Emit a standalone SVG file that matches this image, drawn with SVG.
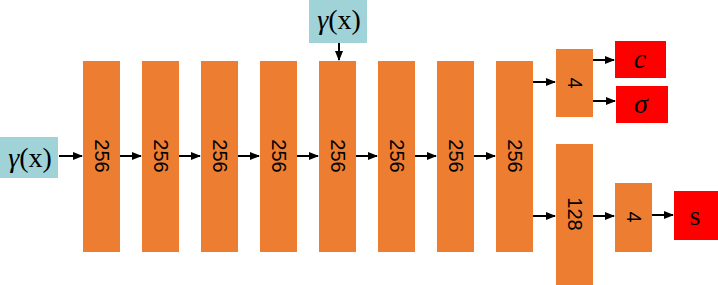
<svg xmlns="http://www.w3.org/2000/svg" width="718" height="285" viewBox="0 0 718 285">
<style>
.bar{fill:#ED7D31}
.in{fill:#A0D3D8}
.out{fill:#FF0000}
.lbl{font-family:"Liberation Sans",Arial,sans-serif;font-size:20px;fill:#000;text-anchor:middle;dominant-baseline:central}
.math{font-family:"Liberation Serif","Times New Roman",serif;font-size:28px;fill:#000;text-anchor:middle}
.conn line{stroke:#000;stroke-width:2;marker-end:url(#ah)}
</style>
<defs>
<marker id="ah" markerWidth="10" markerHeight="8" refX="9" refY="4" orient="auto" markerUnits="userSpaceOnUse">
<path d="M0,0 L10,4 L0,8 Z" fill="#000"/>
</marker>
</defs>
<g id="input1"><rect class="in" x="0" y="137" width="58" height="41"/><text class="math" x="30" y="167"><tspan font-style="italic">γ</tspan>(x)</text></g>
<g id="input2"><rect class="in" x="309" y="0" width="58" height="43"/><text class="math" x="339" y="29"><tspan font-style="italic">γ</tspan>(x)</text></g>
<g id="l1"><rect class="bar" x="83" y="61" width="37" height="191"/><text class="lbl" transform="translate(101.5,156) rotate(90)">256</text></g>
<g id="l2"><rect class="bar" x="142" y="61" width="37" height="191"/><text class="lbl" transform="translate(160.5,156) rotate(90)">256</text></g>
<g id="l3"><rect class="bar" x="201" y="61" width="37" height="191"/><text class="lbl" transform="translate(219.5,156) rotate(90)">256</text></g>
<g id="l4"><rect class="bar" x="260" y="61" width="37" height="191"/><text class="lbl" transform="translate(278.5,156) rotate(90)">256</text></g>
<g id="l5"><rect class="bar" x="319" y="61" width="37" height="191"/><text class="lbl" transform="translate(337.5,156) rotate(90)">256</text></g>
<g id="l6"><rect class="bar" x="378" y="61" width="37" height="191"/><text class="lbl" transform="translate(396.5,156) rotate(90)">256</text></g>
<g id="l7"><rect class="bar" x="437" y="61" width="37" height="191"/><text class="lbl" transform="translate(455.5,156) rotate(90)">256</text></g>
<g id="l8"><rect class="bar" x="496" y="61" width="37" height="191"/><text class="lbl" transform="translate(514.5,156) rotate(90)">256</text></g>
<g id="h1"><rect class="bar" x="556" y="49" width="37" height="68"/><text class="lbl" transform="translate(574.5,83) rotate(90)">4</text></g>
<g id="c"><rect class="out" x="615" y="41" width="51" height="37"/><text class="math" x="640" y="68" font-style="italic">c</text></g>
<g id="sigma"><rect class="out" x="616" y="86" width="52" height="37"/><text class="math" x="641" y="113" font-style="italic">σ</text></g>
<g id="h2"><rect class="bar" x="556" y="144" width="37" height="141"/><text class="lbl" transform="translate(574.5,214) rotate(90)">128</text></g>
<g id="h3"><rect class="bar" x="615" y="183" width="37" height="69"/><text class="lbl" transform="translate(633.5,217) rotate(90)">4</text></g>
<g id="s"><rect class="out" x="674" y="191" width="44" height="49"/><text class="math" x="695" y="225">s</text></g>
<g id="connectors" class="conn">
<line x1="59" y1="156" x2="82" y2="156"/>
<line x1="339" y1="43" x2="339" y2="60"/>
<line x1="120" y1="156" x2="141" y2="156"/>
<line x1="179" y1="156" x2="200" y2="156"/>
<line x1="238" y1="156" x2="259" y2="156"/>
<line x1="297" y1="156" x2="318" y2="156"/>
<line x1="356" y1="156" x2="377" y2="156"/>
<line x1="415" y1="156" x2="436" y2="156"/>
<line x1="474" y1="156" x2="495" y2="156"/>
<line x1="533" y1="82" x2="555" y2="82"/>
<line x1="593" y1="60" x2="614" y2="60"/>
<line x1="593" y1="101" x2="615" y2="101"/>
<line x1="533" y1="216" x2="555" y2="216"/>
<line x1="593" y1="216" x2="614" y2="216"/>
<line x1="652" y1="215" x2="673" y2="215"/>
</g>
</svg>
